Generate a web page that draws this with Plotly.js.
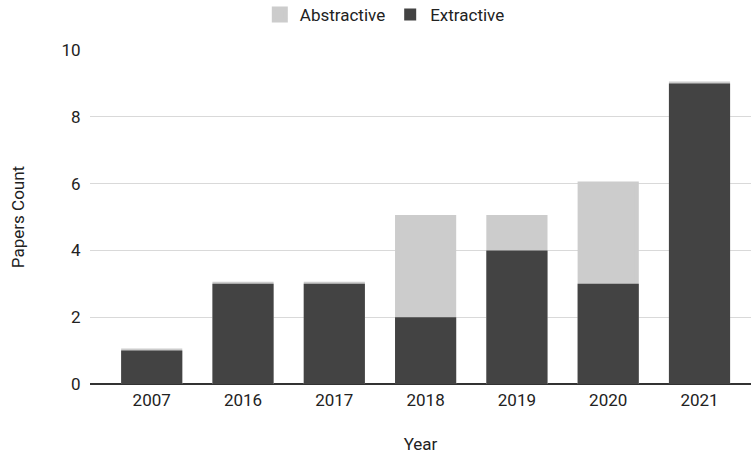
<!DOCTYPE html>
<html><head><meta charset="utf-8">
<script src="https://cdn.plot.ly/plotly-3.0.1.min.js"></script>
<style>html,body{margin:0;padding:0;background:#fff}#c{width:751px;height:454px}</style>
</head><body><div id="c"></div>
<script>
const years = ["2007","2016","2017","2018","2019","2020","2021"];
const extractive = [1,3,3,2,4,3,9];
const abstractive = [0,0,0,3,1,3,0];
const totals = years.map((_, i) => extractive[i] + abstractive[i]);
const F = "Roboto, Arial, sans-serif";
const txt = "#222";
const xRange = [-0.676, 6.564];
const barW = 0.67;
const edge = 4;                // outline width (px) used to draw the thin cap on zero-height segments
const pxPerCat = (751 - 90) / (xRange[1] - xRange[0]);
const data = [
  {type:"bar", name:"Abstractive", x:years, y:totals, width:barW - edge / pxPerCat,
   marker:{color:"#cccccc", line:{color:"#cccccc", width:edge}}, hoverinfo:"none"},
  {type:"bar", name:"Extractive", x:years, y:extractive, width:barW,
   marker:{color:"#434343", line:{width:0}}, hoverinfo:"none"}
];
const layout = {
  width:751, height:454, barmode:"overlay",
  font:{family:F, size:17, color:txt}, paper_bgcolor:"#fff", plot_bgcolor:"#fff",
  margin:{l:90, r:0, t:50, b:70},
  showlegend:true,
  legend:{orientation:"h", x:0.446, xanchor:"center", yref:"container", y:1-15/454, yanchor:"middle", font:{family:F,size:17,color:txt}},
  xaxis:{type:"category", range:xRange, title:{text:"Year", font:{family:F,size:17,color:txt}, standoff:36}, tickfont:{size:17}, showgrid:false, showline:false, ticks:"outside", ticklen:1, tickcolor:"rgba(0,0,0,0)"},
  yaxis:{title:{text:"Papers Count", font:{family:F,size:17,color:txt}, standoff:32}, range:[0,10], dtick:2, tickfont:{size:17}, gridcolor:"#d9d9d9", zeroline:true, zerolinecolor:"#333", zerolinewidth:1.3, ticks:"", ticksuffix:"  "}
};
Plotly.newPlot("c", data, layout, {displayModeBar:false, staticPlot:true});
</script></body></html>
